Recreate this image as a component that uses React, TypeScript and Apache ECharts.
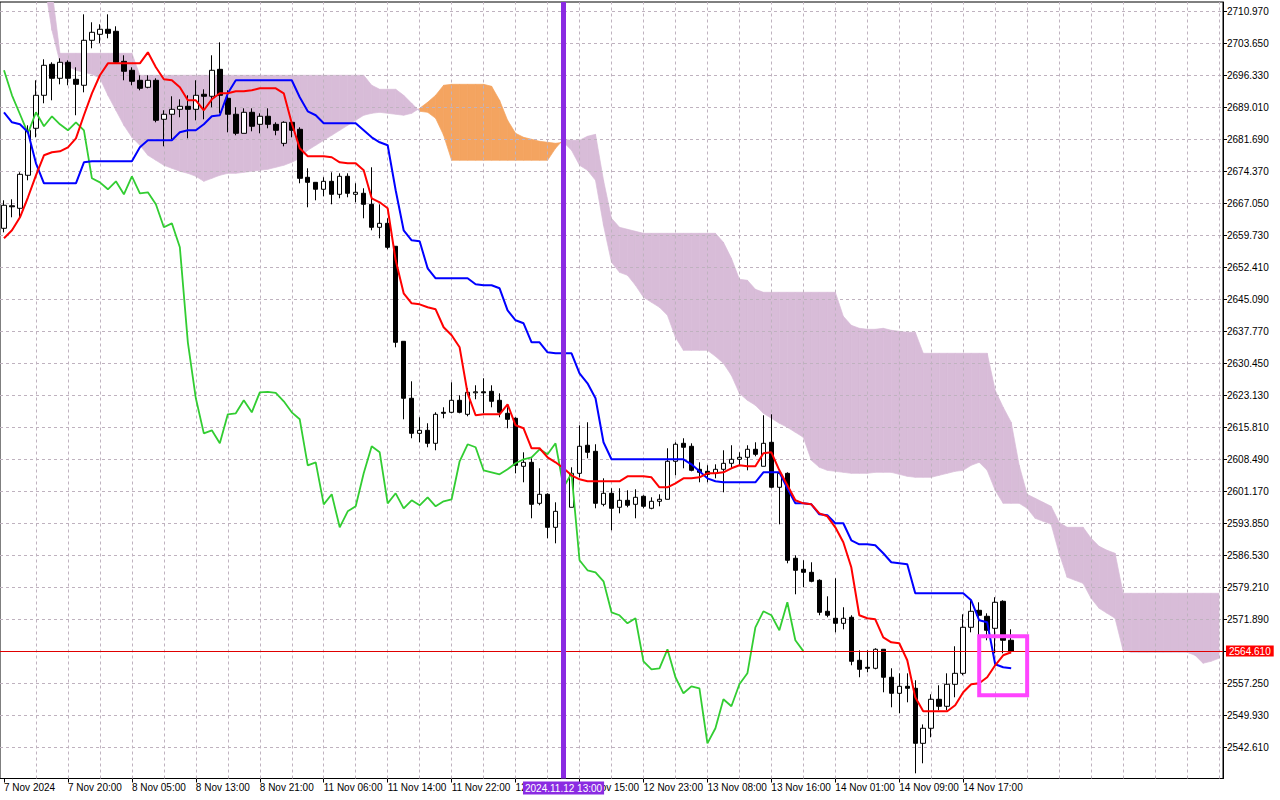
import React, { useEffect, useRef } from "react";
import * as echarts from "echarts";

// ---- Candles (hourly XAUUSD-style, bar 0 = 7 Nov 2024 12:00) ----
const opens = [
  2661.33, 2666.48, 2665.91, 2673.46, 2684.21, 2691.76, 2698.85, 2695.65, 2699.31, 2695.42,
  2694.05, 2704.34, 2705.71, 2706.86, 2706.40, 2699.53, 2697.48, 2695.19, 2693.59, 2695.19,
  2686.27, 2687.42, 2688.55, 2689.24, 2688.55, 2691.99, 2691.53, 2697.70, 2691.07, 2687.42,
  2683.06, 2687.87, 2685.12, 2686.96, 2685.12, 2680.77, 2685.58, 2683.98, 2673.00, 2671.85,
  2670.26, 2672.08, 2669.11, 2673.23, 2669.11, 2669.34, 2666.82, 2661.56, 2662.47, 2657.22,
  2635.48, 2622.45, 2614.43, 2615.12, 2612.15, 2619.24, 2619.24, 2621.99, 2618.78, 2623.70,
  2623.93, 2624.04, 2621.99, 2619.01, 2617.87, 2606.89, 2607.80, 2598.42, 2600.48, 2592.93,
  2596.59, 2597.51, 2605.28, 2611.70, 2610.32, 2598.19, 2600.71, 2597.51, 2599.11, 2598.19,
  2600.03, 2597.28, 2598.88, 2599.34, 2608.03, 2612.15, 2611.47, 2606.20, 2605.74, 2605.28,
  2606.20, 2607.57, 2608.49, 2608.95, 2610.78, 2606.89, 2612.38, 2602.09, 2605.28, 2585.85,
  2583.33, 2582.64, 2580.81, 2573.72, 2572.12, 2570.97, 2572.35, 2562.51, 2560.91, 2560.68,
  2565.03, 2558.63, 2554.96, 2556.56, 2556.11, 2543.52, 2546.96, 2553.59, 2551.99, 2557.02,
  2559.53, 2570.06, 2573.95, 2572.58, 2569.83, 2576.01, 2567.09,
];
const highs = [
  2667.74, 2667.97, 2674.14, 2684.89, 2695.19, 2699.99, 2699.31, 2700.22, 2699.76, 2698.16,
  2710.28, 2708.46, 2708.00, 2710.28, 2707.54, 2700.91, 2698.16, 2696.33, 2696.33, 2695.65,
  2688.33, 2691.53, 2690.84, 2691.76, 2695.19, 2693.13, 2700.91, 2703.88, 2692.90, 2689.01,
  2688.78, 2688.78, 2687.64, 2688.78, 2685.58, 2685.81, 2685.81, 2684.44, 2675.06, 2671.85,
  2673.00, 2674.14, 2673.91, 2673.91, 2671.63, 2670.49, 2675.29, 2666.82, 2663.62, 2657.22,
  2635.48, 2626.33, 2618.10, 2616.73, 2619.24, 2620.39, 2626.10, 2623.13, 2624.73, 2625.42,
  2627.02, 2625.42, 2623.58, 2620.39, 2618.10, 2610.09, 2608.72, 2606.43, 2600.71, 2598.65,
  2599.11, 2606.66, 2616.26, 2616.96, 2611.93, 2604.14, 2601.86, 2601.86, 2601.40, 2601.63,
  2600.26, 2599.80, 2600.48, 2611.01, 2612.38, 2613.30, 2612.15, 2607.80, 2607.12, 2607.34,
  2610.55, 2611.70, 2610.09, 2611.70, 2612.38, 2618.56, 2618.78, 2605.97, 2605.51, 2586.53,
  2585.39, 2584.93, 2581.04, 2577.15, 2581.27, 2574.64, 2572.81, 2564.80, 2564.80, 2565.26,
  2565.03, 2560.68, 2559.53, 2559.53, 2557.94, 2547.84, 2554.73, 2556.79, 2559.53, 2565.72,
  2573.03, 2576.47, 2575.78, 2573.26, 2576.93, 2576.24, 2569.60,
];
const lows = [
  2660.41, 2663.85, 2663.85, 2672.31, 2682.15, 2689.93, 2690.61, 2694.27, 2694.05, 2687.19,
  2692.44, 2702.51, 2703.65, 2704.80, 2699.08, 2695.19, 2694.05, 2692.90, 2693.36, 2685.58,
  2680.09, 2681.69, 2686.73, 2681.92, 2686.04, 2686.27, 2689.01, 2687.64, 2683.29, 2682.61,
  2683.06, 2683.52, 2683.06, 2684.21, 2682.61, 2680.09, 2682.15, 2671.63, 2666.14, 2667.74,
  2668.66, 2666.82, 2668.20, 2668.43, 2667.28, 2663.62, 2660.87, 2659.04, 2656.53, 2634.11,
  2617.64, 2613.30, 2612.38, 2611.24, 2610.55, 2617.87, 2619.01, 2619.01, 2618.33, 2622.22,
  2619.01, 2620.39, 2618.10, 2615.58, 2605.28, 2603.23, 2594.99, 2597.97, 2590.42, 2589.27,
  2594.08, 2597.51, 2604.37, 2608.72, 2597.28, 2597.74, 2592.25, 2596.13, 2597.51, 2594.99,
  2597.28, 2597.05, 2597.74, 2599.34, 2604.83, 2606.43, 2605.74, 2603.23, 2603.23, 2604.14,
  2600.94, 2606.43, 2607.12, 2605.97, 2609.18, 2606.89, 2601.86, 2593.62, 2584.70, 2577.61,
  2579.21, 2580.35, 2572.81, 2572.35, 2568.91, 2569.60, 2561.37, 2558.63, 2559.76, 2560.45,
  2555.19, 2551.76, 2550.38, 2552.90, 2536.66, 2538.95, 2544.90, 2551.07, 2551.07, 2554.05,
  2559.08, 2568.91, 2566.63, 2567.09, 2564.11, 2564.11, 2564.11,
];
const closes = [
  2666.60, 2666.25, 2673.68, 2683.75, 2691.76, 2698.62, 2695.65, 2699.31, 2695.65, 2694.27,
  2704.34, 2706.17, 2706.86, 2705.94, 2699.31, 2697.25, 2694.96, 2693.36, 2695.19, 2686.04,
  2687.42, 2688.55, 2689.24, 2688.55, 2691.76, 2691.53, 2697.48, 2691.76, 2687.42, 2683.06,
  2687.87, 2684.67, 2686.96, 2685.12, 2683.75, 2685.58, 2683.75, 2672.77, 2671.85, 2670.26,
  2672.08, 2669.11, 2673.23, 2669.34, 2669.57, 2666.82, 2661.56, 2662.47, 2656.99, 2635.25,
  2622.45, 2614.43, 2615.12, 2612.15, 2618.78, 2619.01, 2621.99, 2619.24, 2623.81, 2623.93,
  2623.70, 2621.76, 2619.24, 2617.64, 2607.12, 2607.80, 2598.19, 2600.48, 2592.93, 2596.59,
  2597.74, 2605.28, 2611.47, 2610.09, 2598.42, 2600.71, 2597.28, 2599.11, 2597.97, 2599.80,
  2597.74, 2598.88, 2599.34, 2608.03, 2611.93, 2611.24, 2605.97, 2605.51, 2605.05, 2606.20,
  2607.57, 2608.49, 2608.95, 2610.78, 2609.63, 2612.15, 2602.09, 2605.28, 2585.39, 2583.10,
  2582.64, 2580.58, 2573.49, 2572.81, 2570.97, 2572.12, 2562.28, 2560.45, 2560.68, 2565.03,
  2558.63, 2554.96, 2556.56, 2556.11, 2543.52, 2546.96, 2553.59, 2551.99, 2557.02, 2559.53,
  2570.06, 2573.72, 2572.81, 2569.37, 2575.78, 2567.09, 2564.61,
];

// ---- Ichimoku lines ----
const tenkan = [
  2659.04, 2660.87, 2663.85, 2668.43, 2673.46, 2678.04, 2678.72, 2678.95, 2679.86, 2681.92,
  2687.19, 2692.21, 2696.34, 2699.07, 2699.07, 2699.07, 2699.07, 2699.07, 2701.59, 2698.16,
  2695.42, 2695.19, 2693.59, 2690.61, 2690.61, 2688.33, 2690.84, 2692.21, 2692.21, 2692.67,
  2692.67, 2692.90, 2693.36, 2693.36, 2693.36, 2692.21, 2685.35, 2679.63, 2677.81, 2677.81,
  2677.81, 2677.58, 2676.43, 2676.20, 2676.20, 2674.60, 2668.20, 2667.28, 2665.91, 2654.01,
  2646.46, 2644.17, 2643.94, 2643.26, 2642.80, 2638.69, 2636.86, 2634.11, 2623.58, 2618.56,
  2618.78, 2618.78, 2618.78, 2621.07, 2616.27, 2615.58, 2611.01, 2611.01, 2608.95, 2607.80,
  2606.43, 2604.83, 2603.92, 2603.46, 2603.46, 2603.46, 2603.46, 2603.46, 2604.60, 2604.60,
  2604.60, 2604.37, 2602.09, 2602.09, 2603.00, 2604.14, 2604.14, 2604.37, 2605.28, 2605.28,
  2605.51, 2606.43, 2607.12, 2606.89, 2606.89, 2609.86, 2610.09, 2605.97, 2602.54, 2599.11,
  2598.42, 2598.19, 2596.13, 2595.45, 2592.93, 2589.50, 2583.78, 2572.81, 2572.12, 2571.89,
  2567.77, 2566.63, 2566.40, 2562.51, 2554.05, 2550.84, 2550.84, 2550.84, 2550.84, 2552.22,
  2555.19, 2557.02, 2557.25, 2558.63, 2561.37, 2563.66, 2564.34,
];
const kijun = [
  2687.87, 2685.58, 2685.12, 2683.29, 2676.20, 2671.63, 2671.63, 2671.63, 2671.63, 2671.63,
  2676.43, 2676.66, 2676.66, 2676.66, 2676.66, 2676.66, 2676.66, 2679.86, 2681.46, 2681.46,
  2681.46, 2681.46, 2683.29, 2683.75, 2683.75, 2685.12, 2686.96, 2687.19, 2692.21, 2695.19,
  2695.19, 2695.19, 2695.19, 2695.19, 2695.19, 2695.19, 2695.19, 2691.30, 2688.10, 2687.19,
  2685.35, 2685.35, 2685.35, 2685.35, 2685.35, 2683.75, 2682.15, 2681.01, 2680.32, 2670.03,
  2660.87, 2658.59, 2658.36, 2652.18, 2649.90, 2649.90, 2649.90, 2649.90, 2649.90, 2648.52,
  2648.30, 2648.30, 2647.61, 2642.57, 2640.29, 2639.60, 2635.25, 2635.25, 2632.97, 2632.74,
  2632.74, 2632.74, 2628.16, 2625.87, 2622.45, 2612.38, 2608.49, 2608.49, 2608.49, 2608.49,
  2608.49, 2608.49, 2608.49, 2608.49, 2608.49, 2608.49, 2607.34, 2605.74, 2604.14, 2603.46,
  2603.23, 2603.23, 2603.23, 2603.23, 2603.23, 2605.51, 2605.51, 2605.51, 2601.86, 2598.42,
  2598.42, 2598.19, 2595.90, 2595.68, 2593.85, 2593.85, 2589.96, 2589.05, 2589.05, 2588.82,
  2586.99, 2584.93, 2584.70, 2584.47, 2577.84, 2577.84, 2577.84, 2577.84, 2577.84, 2577.84,
  2577.84, 2576.24, 2571.66, 2571.20, 2561.60, 2560.91, 2560.68,
];
// Senkou spans, plotted over bars 0..152 (26 bars beyond the last candle)
const spanA = [
  2736.37, 2736.37, 2736.37, 2736.37, 2736.37, 2718.06, 2706.63, 2699.31, 2698.39, 2697.48,
  2697.02, 2696.56, 2695.65, 2691.76, 2688.33, 2684.89, 2682.15, 2680.32, 2678.04, 2676.89,
  2675.75, 2675.06, 2674.37, 2673.91, 2673.23, 2672.08, 2672.77, 2673.46, 2673.91, 2673.91,
  2674.14, 2674.37, 2674.60, 2674.83, 2675.29, 2675.75, 2676.43, 2677.35, 2679.18, 2680.32,
  2681.46, 2682.61, 2683.75, 2684.89, 2686.04, 2687.19, 2687.64, 2687.87, 2687.64, 2687.42,
  2687.19, 2687.64, 2688.78, 2690.16, 2691.76, 2694.05, 2694.27, 2694.27, 2694.27, 2694.27,
  2694.27, 2693.82, 2690.61, 2686.04, 2683.06, 2682.15, 2681.69, 2681.24, 2681.01, 2680.78,
  2681.01, 2679.18, 2675.75, 2674.60, 2672.31, 2662.02, 2653.56, 2651.27, 2650.58, 2648.29,
  2645.55, 2644.40, 2643.26, 2641.43, 2636.40, 2633.42, 2633.42, 2633.42, 2633.42, 2632.05,
  2630.45, 2627.70, 2623.58, 2621.99, 2620.85, 2619.01, 2617.87, 2616.73, 2615.81, 2614.67,
  2613.52, 2608.26, 2606.66, 2605.97, 2605.74, 2605.51, 2605.28, 2605.28, 2605.28, 2605.51,
  2605.51, 2605.51, 2605.05, 2604.60, 2604.37, 2604.37, 2604.37, 2604.83, 2605.28, 2605.74,
  2605.97, 2607.12, 2607.80, 2605.97, 2601.40, 2598.42, 2598.42, 2598.42, 2597.28, 2594.99,
  2594.31, 2593.62, 2586.99, 2581.50, 2580.81, 2580.12, 2576.69, 2574.41, 2573.26, 2572.12,
  2564.80, 2564.34, 2564.34, 2564.34, 2564.34, 2564.34, 2564.34, 2564.34, 2564.34, 2563.66,
  2561.83, 2562.28, 2562.97,
];
const spanB = [
  2747.80, 2747.80, 2747.80, 2747.80, 2747.80, 2731.79, 2715.78, 2701.36, 2701.36, 2701.36,
  2701.36, 2701.36, 2701.36, 2701.36, 2701.36, 2701.36, 2701.36, 2696.33, 2696.33, 2696.33,
  2696.33, 2696.33, 2696.33, 2696.33, 2696.33, 2696.33, 2696.33, 2696.33, 2696.33, 2696.33,
  2696.33, 2696.33, 2696.33, 2696.33, 2696.33, 2696.33, 2696.33, 2696.33, 2696.33, 2696.33,
  2696.33, 2696.33, 2696.33, 2696.33, 2696.33, 2696.33, 2694.05, 2693.13, 2693.13, 2693.13,
  2691.76, 2689.93, 2688.10, 2687.87, 2686.50, 2682.61, 2676.89, 2676.89, 2676.89, 2676.89,
  2676.89, 2676.89, 2676.89, 2676.89, 2676.89, 2676.89, 2676.89, 2676.89, 2676.89, 2679.63,
  2681.69, 2681.46, 2681.46, 2682.38, 2682.83, 2672.31, 2663.62, 2661.56, 2661.10, 2660.64,
  2660.18, 2660.18, 2660.18, 2660.18, 2660.18, 2660.18, 2660.18, 2660.18, 2660.18, 2660.18,
  2658.13, 2654.47, 2649.67, 2649.44, 2647.38, 2646.69, 2646.69, 2646.69, 2646.69, 2646.69,
  2646.69, 2646.69, 2646.69, 2646.69, 2646.69, 2641.20, 2639.14, 2638.46, 2638.23, 2638.23,
  2638.46, 2638.00, 2637.77, 2637.55, 2637.55, 2632.74, 2632.74, 2632.74, 2632.74, 2632.74,
  2632.74, 2632.74, 2632.74, 2632.74, 2624.27, 2620.39, 2616.96, 2607.12, 2600.48, 2599.57,
  2598.65, 2597.74, 2594.08, 2592.93, 2592.93, 2592.93, 2590.42, 2588.59, 2587.67, 2586.99,
  2577.84, 2577.84, 2577.84, 2577.84, 2577.84, 2577.84, 2577.84, 2577.84, 2577.84, 2577.84,
  2577.84, 2577.84, 2577.84,
];

// ---- Axes ----
const xTickLabels = [
  "7 Nov 2024", "7 Nov 20:00", "8 Nov 05:00", "8 Nov 13:00", "8 Nov 21:00",
  "11 Nov 06:00", "11 Nov 14:00", "11 Nov 22:00", "12 Nov 07:00", "12 Nov 15:00",
  "12 Nov 23:00", "13 Nov 08:00", "13 Nov 16:00", "14 Nov 01:00", "14 Nov 09:00",
  "14 Nov 17:00",
];
const yTicks = [
  2710.97, 2703.65, 2696.33, 2689.01, 2681.69, 2674.37, 2667.05, 2659.73, 2652.41,
  2645.09, 2637.77, 2630.45, 2623.13, 2615.81, 2608.49, 2601.17, 2593.85, 2586.53,
  2579.21, 2571.89, 2564.57, 2557.25, 2549.93, 2542.61,
];
const lastPrice = 2564.61;
const markerBar = 70;
const markerText = "2024.11.12 13:00";
const boxBars = [122, 128];
const boxPrices = [2568.0, 2554.5];

const Y_MIN = 2535.47;
const Y_MAX = 2713.1;
const SHIFT = 26;
const BARS_PER_LABEL = 8;
const FONT = "'Liberation Sans', Arial, sans-serif";

export default function App() {
  const ref = useRef<HTMLDivElement>(null);

  useEffect(() => {
    if (!ref.current) return;
    const chart = echarts.init(ref.current, null, { renderer: "svg" });
    const total = spanA.length;
    const categories = Array.from({ length: total }, (_, i) => String(i));
    const candleData = opens.map((o, i) => [o, closes[i], lows[i], highs[i]]);
    const chikou = categories.map((_, i) =>
      i + SHIFT < closes.length ? closes[i + SHIFT] : null
    );
    const cloudData: number[][] = [];
    for (let i = 0; i < total - 1; i++) {
      cloudData.push([i, spanA[i], spanB[i], spanA[i + 1], spanB[i + 1]]);
    }
    const lastLabelBar = (xTickLabels.length - 1) * BARS_PER_LABEL;
    const isLabelBar = (idx: number) => idx % BARS_PER_LABEL === 0 && idx <= lastLabelBar;
    const vGrid: number[] = [];
    for (let i = 4; i < total; i += 4) vGrid.push(i);

    chart.setOption({
      animation: false,
      backgroundColor: "#ffffff",
      grid: {
        left: 0,
        top: 2,
        right: 57,
        bottom: 21.5,
        show: true,
        borderColor: "#000",
        borderWidth: 1,
        backgroundColor: "#ffffff",
      },
      xAxis: {
        type: "category",
        data: categories,
        boundaryGap: true,
        axisLine: { show: true, lineStyle: { color: "#000", width: 1 } },
        axisTick: {
          show: true,
          alignWithLabel: true,
          interval: (idx: number) => isLabelBar(idx),
          length: 4,
          lineStyle: { color: "#000" },
        },
        axisLabel: {
          interval: (idx: number) => isLabelBar(idx),
          align: "left",
          margin: 4,
          fontSize: 10,
          fontFamily: FONT,
          color: "#000",
          formatter: (_v: string, idx: number) =>
            isLabelBar(idx) ? xTickLabels[idx / BARS_PER_LABEL] : "",
        },
        splitLine: { show: false },
      },
      yAxis: {
        type: "value",
        position: "right",
        min: Y_MIN,
        max: Y_MAX,
        axisLine: { show: true, lineStyle: { color: "#000", width: 1 } },
        axisTick: {
          show: true,
          length: 4,
          customValues: yTicks,
          lineStyle: { color: "#000" },
        },
        axisLabel: {
          customValues: yTicks.filter((v) => Math.abs(v - lastPrice) > 1),
          formatter: (v: number) => v.toFixed(3),
          fontSize: 10,
          fontFamily: FONT,
          color: "#000",
          margin: 4,
        },
        splitLine: { show: false },
      },
      series: [
        {
          type: "custom",
          name: "cloud",
          z: 1,
          clip: true,
          silent: true,
          data: cloudData,
          encode: { x: 0, y: [1, 2, 3, 4] },
          renderItem: (_p: any, api: any) => {
            const i = api.value(0);
            const a0 = api.value(1);
            const b0 = api.value(2);
            const a1 = api.value(3);
            const b1 = api.value(4);
            const pA0 = api.coord([i, a0]);
            const pA1 = api.coord([i + 1, a1]);
            const pB1 = api.coord([i + 1, b1]);
            const pB0 = api.coord([i, b0]);
            const color = a0 + a1 > b0 + b1 ? "#f4a460" : "#d8bcd8";
            return {
              type: "polygon",
              shape: { points: [pA0, pA1, pB1, pB0] },
              style: { fill: color, stroke: color, lineWidth: 0.7 },
            };
          },
        },
        {
          type: "line",
          name: "grid",
          z: 2,
          silent: true,
          data: [],
          markLine: {
            silent: true,
            z: 2,
            animation: false,
            symbol: ["none", "none"],
            label: { show: false },
            lineStyle: { color: "#bfb2bf", type: [3, 3], width: 1 },
            data: [
              ...yTicks.map((v) => ({ yAxis: v })),
              ...vGrid.map((i) => ({ xAxis: i })),
            ],
          },
        },
        {
          type: "candlestick",
          name: "price",
          z: 3,
          barWidth: 5,
          data: candleData,
          itemStyle: {
            color: "#ffffff",
            color0: "#000000",
            borderColor: "#000000",
            borderColor0: "#000000",
            borderWidth: 1,
          },
        },
        {
          type: "line",
          name: "Chikou",
          z: 4,
          data: chikou,
          symbol: "none",
          lineStyle: { color: "#32cd32", width: 1.8 },
        },
        {
          type: "line",
          name: "Kijun",
          z: 4,
          data: kijun,
          symbol: "none",
          lineStyle: { color: "#0000ff", width: 2 },
        },
        {
          type: "line",
          name: "Tenkan",
          z: 4,
          data: tenkan,
          symbol: "none",
          lineStyle: { color: "#ff0000", width: 2 },
        },
        {
          type: "line",
          name: "markers",
          z: 5,
          data: [],
          markLine: {
            silent: true,
            z: 5,
            animation: false,
            symbol: ["none", "none"],
            data: [
              {
                yAxis: lastPrice,
                lineStyle: { color: "#e00000", width: 1, type: "solid" },
                label: {
                  show: true,
                  position: "end",
                  distance: 3,
                  formatter: lastPrice.toFixed(3),
                  color: "#ffffff",
                  backgroundColor: "#ff0000",
                  padding: [1, 3, 0, 3],
                  fontSize: 10,
                  fontFamily: FONT,
                },
              },
              {
                xAxis: markerBar,
                lineStyle: { color: "#8a2be2", width: 5, type: "solid" },
                label: {
                  show: true,
                  position: "start",
                  distance: 3,
                  formatter: markerText,
                  color: "#ffffff",
                  backgroundColor: "#8a2be2",
                  padding: [2, 2, 1, 2],
                  fontSize: 10,
                  fontFamily: FONT,
                },
              },
            ],
          },
        },
        {
          type: "custom",
          name: "box",
          z: 6,
          silent: true,
          data: [[boxBars[0], boxBars[1], boxPrices[0], boxPrices[1]]],
          encode: { x: [0, 1], y: [2, 3] },
          renderItem: (_p: any, api: any) => {
            const p1 = api.coord([api.value(0), api.value(2)]);
            const p2 = api.coord([api.value(1), api.value(3)]);
            return {
              type: "rect",
              shape: { x: p1[0], y: p1[1], width: p2[0] - p1[0], height: p2[1] - p1[1] },
              style: { fill: "none", stroke: "#ff44ff", lineWidth: 4 },
            };
          },
        },
      ],
    });

    return () => chart.dispose();
  }, []);

  return (
    <div
      ref={ref}
      style={{ position: "fixed", left: 0, top: 0, width: 1280, height: 800, background: "#fff" }}
    />
  );
}
